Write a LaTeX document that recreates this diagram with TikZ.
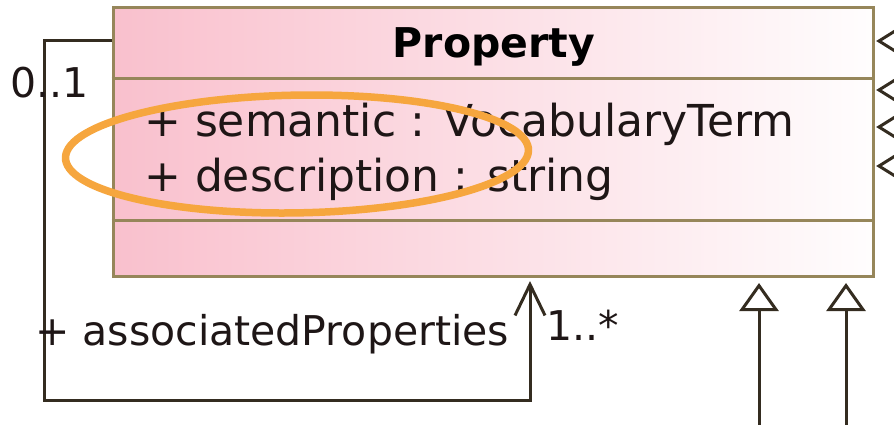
\documentclass[tikz,border=0pt]{standalone}
\usepackage{fontspec}
\setmainfont{DejaVu Sans}
\usetikzlibrary{arrows.meta}
\definecolor{boxpink}{RGB}{249,192,205}
\definecolor{boxedge}{RGB}{150,134,90}
\definecolor{inkline}{RGB}{52,44,32}
\definecolor{hlorange}{RGB}{246,166,62}
\definecolor{inktext}{RGB}{30,22,22}
\tikzset{
  umltxt/.style={inner sep=0pt, anchor=base west, text=inktext, font=\fontsize{41}{41}\selectfont},
  attrtxt/.style={inner sep=0pt, anchor=base west, text=inktext, font=\fontsize{44}{44}\selectfont},
  titletxt/.style={inner sep=0pt, anchor=base, font=\fontsize{41}{41}\selectfont\bfseries},
  classbox/.style={draw=boxedge, line width=3pt, left color=boxpink, right color=white!97!boxpink,
    minimum width=760pt, minimum height=269pt, inner sep=0pt},
  sepline/.style={draw=boxedge, line width=3pt},
  assoc/.style={draw=inkline, line width=3pt},
  openarrow/.style={-{Straight Barb[length=31pt,width=30pt,line width=3pt]}},
  genarrow/.style={-{Triangle[open,length=28pt,width=39pt,line width=3pt,fill=white]}},
  aggtip/.style={draw=inkline, line width=3pt, fill=white},
  highlight/.style={draw=hlorange, line width=7.5pt},
}
\begin{document}
\begin{tikzpicture}[x=1pt,y=-1pt]
\useasboundingbox (0,0) rectangle (894,424);
\clip (0,0) rectangle (894,424);

% class box
\node[classbox] (prop) at (493,141.5) {};
\draw[sepline] (prop.west |- 0,78) -- (prop.east |- 0,78);
\draw[sepline] (prop.west |- 0,220) -- (prop.east |- 0,220);

\node[titletxt] (title) at (494,57) {Property};
\node[attrtxt] (attr1) at (144,136) {+ semantic : VocabularyTerm};
\node[attrtxt] (attr2) at (144,191) {+ description : string};

% reflexive association
\coordinate (selfout) at (prop.west |- 0,40);
\coordinate (selfin) at (530,281);
\draw[assoc, openarrow] (selfout) -- (44,40) |- (530,400) -- (selfin);
\node[umltxt] (mult0) at (10,97) {0..1};
\node[umltxt] (role) at (35,345) {+ associatedProperties};
\node[umltxt] (mult1) at (546,340) {1..*};

% generalizations from below
\coordinate (gen1) at (759,283);
\coordinate (gen2) at (846,283);
\draw[assoc, genarrow] (759,440) -- (gen1);
\draw[assoc, genarrow] (846,440) -- (gen2);

% aggregation ends on the right
\foreach \yy in {41,90,127,166}{
  \draw[aggtip] (879,\yy) -- (895,\yy-10) -- (911,\yy) -- (895,\yy+10) -- cycle;
}

% highlight ring
\begin{scope}[shift={(297,154)}, xslant=0.25]
  \draw[highlight] (0,0) ellipse [x radius=231, y radius=59];
\end{scope}
\end{tikzpicture}
\end{document}
